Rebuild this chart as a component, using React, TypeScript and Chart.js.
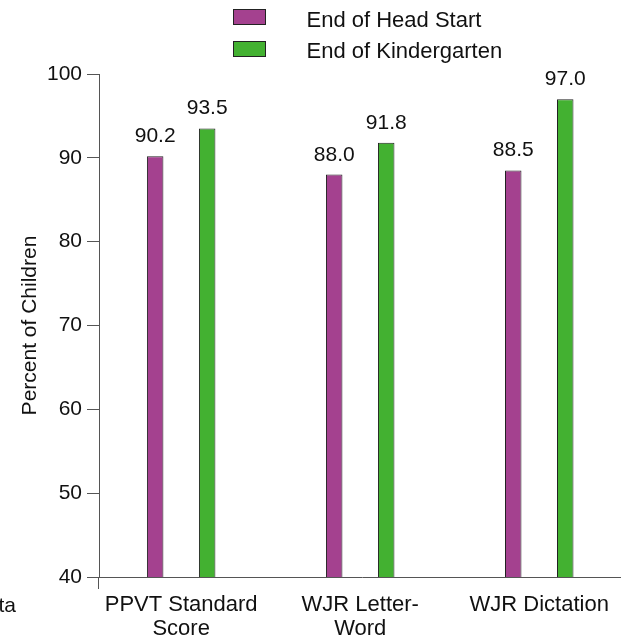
import React, { useEffect, useRef } from "react";
import { Chart, registerables } from "chart.js";

Chart.register(...registerables);

// ---- data ----
const categories: string[][] = [["PPVT Standard", "Score"], ["WJR Letter-", "Word"], ["WJR Dictation"]];
const seriesNames: string[] = ["End of Head Start", "End of Kindergarten"];
const headStartValues: number[] = [90.2, 88.0, 88.5];
const kindergartenValues: number[] = [93.5, 91.8, 97.0];
const yMin = 40;
const yMax = 100;
const yStep = 10;
const yTitle = "Percent of Children";
const footText = "Data";

// x axis range around category indices 0..2
const xMin = -0.459;
const xMax = 2.479;

const seriesColors = ["#A4418F", "#43B131"];
const FONT = "'Liberation Sans', Arial, Helvetica, sans-serif";
const AXIS = "#555555";
const TEXT = "#111111";

const decorPlugin = {
  id: "decor",
  afterDraw(chart: any) {
    const ctx = chart.ctx;
    const area = chart.chartArea;
    ctx.save();
    // y axis line continues a little below the x axis
    ctx.strokeStyle = AXIS;
    ctx.lineWidth = 1;
    ctx.beginPath();
    ctx.moveTo(Math.round(area.left) - 0.5, area.bottom);
    ctx.lineTo(Math.round(area.left) - 0.5, area.bottom + 12);
    ctx.stroke();
    // legend
    chart.data.datasets.forEach((ds: any, i: number) => {
      const by = 9 + i * 32;
      ctx.fillStyle = ds.backgroundColor;
      ctx.fillRect(233, by, 33, 16);
      ctx.strokeStyle = "#222";
      ctx.lineWidth = 1;
      ctx.strokeRect(233.5, by + 0.5, 32, 15);
      ctx.fillStyle = TEXT;
      ctx.font = `22px ${FONT}`;
      ctx.textAlign = "left";
      ctx.textBaseline = "alphabetic";
      ctx.fillText(ds.label, 306.5, 27 + i * 31);
    });
    // cropped source note at bottom-left
    ctx.font = `21px ${FONT}`;
    ctx.textAlign = "right";
    ctx.fillText(footText, 16, 612);
    ctx.restore();
  },
};

const valueLabelPlugin = {
  id: "valueLabels",
  afterDatasetsDraw(chart: any) {
    const ctx = chart.ctx;
    ctx.save();
    ctx.font = `21px ${FONT}`;
    ctx.fillStyle = TEXT;
    ctx.textAlign = "center";
    ctx.textBaseline = "alphabetic";
    chart.data.datasets.forEach((ds: any, di: number) => {
      const meta = chart.getDatasetMeta(di);
      meta.data.forEach((bar: any, i: number) => {
        ctx.fillText(Number(ds.data[i].y).toFixed(1), bar.x, bar.y - 14);
      });
    });
    ctx.restore();
  },
};

export default function App() {
  const ref = useRef<HTMLCanvasElement | null>(null);

  useEffect(() => {
    if (!ref.current) return;
    const chart = new Chart(ref.current, {
      type: "bar",
      data: {
        datasets: [
          {
            label: seriesNames[0],
            data: headStartValues.map((v, i) => ({ x: i, y: v })),
            backgroundColor: seriesColors[0],
            borderColor: "#222222",
            borderWidth: 1,
          },
          {
            label: seriesNames[1],
            data: kindergartenValues.map((v, i) => ({ x: i, y: v })),
            backgroundColor: seriesColors[1],
            borderColor: "#222222",
            borderWidth: 1,
          },
        ],
      },
      options: {
        responsive: false,
        animation: false,
        devicePixelRatio: 1,
        layout: { padding: { top: 74, right: 3, left: 0, bottom: 0 } },
        datasets: {
          bar: { categoryPercentage: 0.581, barPercentage: 0.317 },
        },
        plugins: {
          legend: { display: false },
          tooltip: { enabled: false },
        },
        scales: {
          x: {
            type: "linear",
            min: xMin,
            max: xMax,
            offset: false,
            afterBuildTicks: (axis: any) => {
              axis.ticks = categories.map((_, i) => ({ value: i }));
            },
            afterFit: (axis: any) => {
              axis.height = 64;
            },
            grid: {
              offset: false,
              drawOnChartArea: false,
              drawTicks: true,
              tickLength: 12,
              color: "rgba(0,0,0,0)",
            },
            border: { display: true, color: AXIS, width: 1 },
            ticks: {
              color: TEXT,
              font: { family: FONT, size: 22, lineHeight: 1.09 },
              padding: 4,
              maxRotation: 0,
              minRotation: 0,
              autoSkip: false,
              callback: (v: any) => {
                const n = Number(v);
                return Number.isInteger(n) && categories[n] ? categories[n] : "";
              },
            },
          },
          y: {
            min: yMin,
            max: yMax,
            afterFit: (axis: any) => {
              axis.width = 99;
            },
            grid: {
              drawOnChartArea: false,
              drawTicks: true,
              tickLength: 12,
              color: AXIS,
            },
            border: { display: true, color: AXIS, width: 1 },
            ticks: {
              stepSize: yStep,
              color: TEXT,
              font: { family: FONT, size: 21 },
              padding: 5,
            },
            title: {
              display: true,
              text: yTitle,
              color: TEXT,
              font: { family: FONT, size: 21, lineHeight: 1.2 },
              padding: { top: 18, bottom: 0 },
            },
          },
        },
      },
      plugins: [decorPlugin, valueLabelPlugin],
    });
    return () => chart.destroy();
  }, []);

  return (
    <div
      style={{
        position: "fixed",
        left: 0,
        top: 0,
        width: 621,
        height: 641,
        overflow: "hidden",
        background: "#ffffff",
      }}
    >
      <canvas ref={ref} width={628} height={641} style={{ width: 628, height: 641, display: "block" }} />
    </div>
  );
}
